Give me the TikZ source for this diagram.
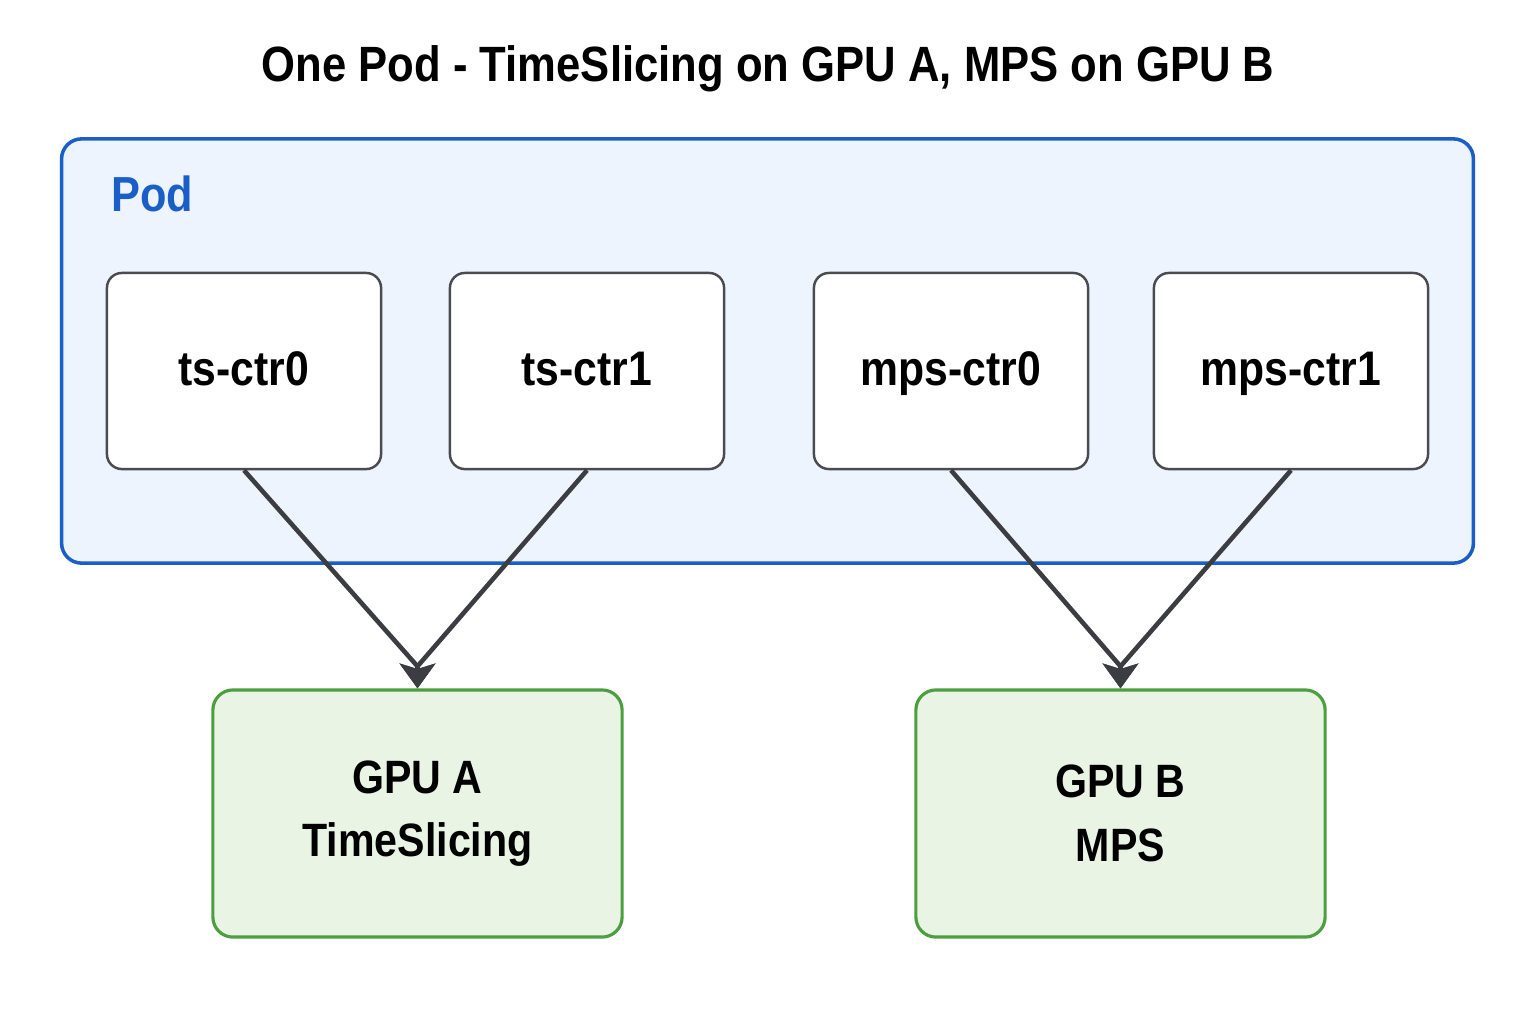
\documentclass[tikz,border=0pt]{standalone}
\usepackage{fontspec}
\setmainfont{Liberation Sans}[FakeStretch=0.88]
\usepackage{xcolor}
\usetikzlibrary{arrows.meta, positioning}

\definecolor{podblue}{HTML}{1A5FC8}
\definecolor{podfill}{HTML}{EEF4FD}
\definecolor{ctrgray}{HTML}{4A4B50}
\definecolor{gpugreen}{HTML}{4C9F3F}
\definecolor{gpufill}{HTML}{E9F4E5}
\definecolor{arrowgray}{HTML}{3C3D42}

\begin{document}
\begin{tikzpicture}[
    x=0.01cm, y=-0.01cm,
    pod box/.style={
        draw=podblue,
        fill=podfill,
        rounded corners=0.2cm,
        line width=1pt,
        minimum width=14.11cm,
        minimum height=4.24cm
    },
    ctr box/.style={
        draw=ctrgray,
        fill=white,
        rounded corners=0.15cm,
        line width=0.7pt,
        minimum width=2.74cm,
        minimum height=1.96cm,
        text height=1.95ex, text depth=0.4ex,
        font=\fontsize{13.8pt}{16pt}\selectfont\bfseries
    },
    gpu box/.style={
        draw=gpugreen,
        fill=gpufill,
        rounded corners=0.2cm,
        line width=0.9pt,
        minimum width=4.09cm,
        minimum height=2.47cm,
        align=center,
        font=\fontsize{13.3pt}{18pt}\selectfont\bfseries
    },
    link/.style={
        draw=arrowgray,
        line width=1.3pt,
        -{Stealth[length=7pt, width=10pt, inset=1.5pt]}
    }
]
    % page and title
    \useasboundingbox[fill=white] (0,0) rectangle (1536,1024);
    \node (title) at (768,69) {\fontsize{14.1pt}{17pt}\selectfont\bfseries One Pod - TimeSlicing on GPU A, MPS on GPU B};

    % the pod with its four containers
    \node[pod box] (pod) at (767.5,351) {};
    \node[text=podblue, font=\fontsize{14pt}{17pt}\selectfont\bfseries, anchor=west] (podlabel) at (99,194) {Pod};

    \node[ctr box] (ts0) at (244,371) {ts-ctr0};
    \node[ctr box] (ts1) at (587,371) {ts-ctr1};
    \node[ctr box] (mps0) at (951,371) {mps-ctr0};
    \node[ctr box] (mps1) at (1291,371) {mps-ctr1};

    % the two GPUs
    \node[gpu box] (gpua) at (417.5,813.5) {GPU A\\TimeSlicing};
    \node[gpu box] (gpub) at (1120.5,813.5) {GPU B\\MPS};

    % links end with a short vertical piece so the tips point down
    \draw[link] (ts0.south) -- ([yshift=0.22cm]gpua.north) -- (gpua.north);
    \draw[link] (ts1.south) -- ([yshift=0.22cm]gpua.north) -- (gpua.north);
    \draw[link] (mps0.south) -- ([yshift=0.22cm]gpub.north) -- (gpub.north);
    \draw[link] (mps1.south) -- ([yshift=0.22cm]gpub.north) -- (gpub.north);
\end{tikzpicture}
\end{document}
